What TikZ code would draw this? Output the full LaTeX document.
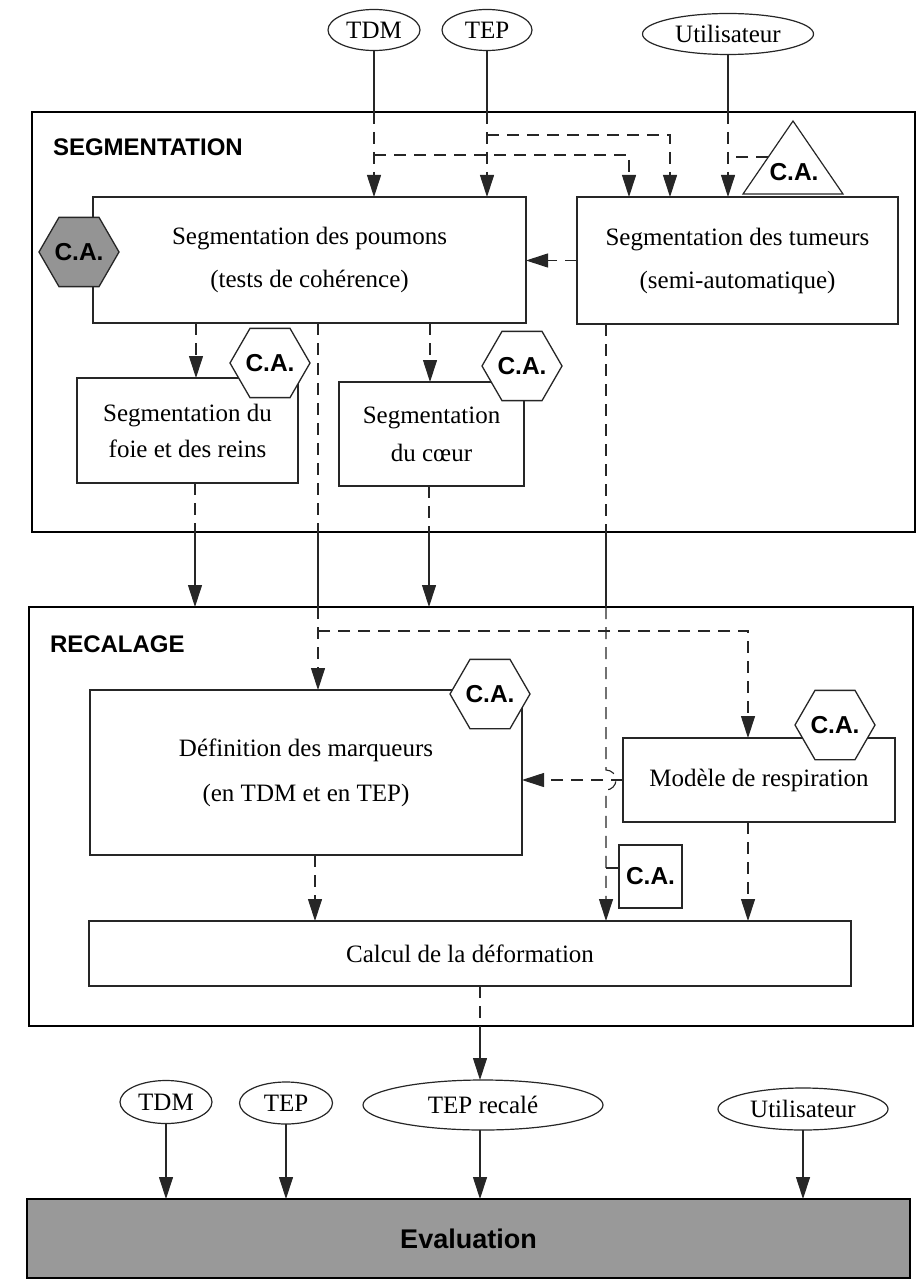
\documentclass[tikz,border=0pt]{standalone}
\usepackage{fontspec}
\setmainfont{Liberation Serif}
\newfontfamily\labfont{Liberation Sans}
\usetikzlibrary{shapes.geometric,arrows.meta,calc}
\begin{document}
\begin{tikzpicture}[x=1pt,y=-1pt,
  every node/.style={inner sep=0pt, outer sep=0pt},
  txt/.style={font=\fontsize{25}{43}\selectfont, align=center},
  box/.style={draw=black!85, line width=1.3pt, fill=white, rectangle, txt},
  frame/.style={draw=black, line width=2.3pt, rectangle},
  ell/.style={draw=black!85, line width=1.2pt, ellipse, fill=white, font=\fontsize{25}{30}\selectfont},
  cafont/.style={font=\labfont\bfseries\fontsize{24.5}{25}\selectfont},
  hexa/.style={draw=black!85, line width=1.3pt, regular polygon, regular polygon sides=6, minimum size=67pt, fill=white, cafont},
  lab/.style={font=\labfont\bfseries\fontsize{24}{25}\selectfont},
  conn/.style={draw=black!85, line width=1.1pt},
  dconn/.style={conn, dash pattern=on 12pt off 8pt},
  arr/.style={-{Triangle[length=22pt,width=14pt]}},
]
\useasboundingbox (0,0) rectangle (920,1281);

% frames
\node[frame, minimum width=883pt, minimum height=420pt] (seg) at (473.5,322) {};
\node[frame, minimum width=884pt, minimum height=419pt] (rec) at (471,816.5) {};
\node[lab, anchor=west] (seglab) at (53,147) {SEGMENTATION};
\node[lab, anchor=west] (reclab) at (50,644) {RECALAGE};

% top inputs
\node[ell, minimum width=92pt, minimum height=41pt] (tdm1) at (374,30) {TDM};
\node[ell, minimum width=90pt, minimum height=41pt] (tep1) at (487,30) {TEP};
\node[ell, minimum width=171pt, minimum height=41pt] (user1) at (728,34) {Utilisateur};

% segmentation boxes
\node[box, minimum width=433pt, minimum height=126pt] (lungs) at (309.5,260) {Segmentation des poumons\\(tests de cohérence)};
\node[box, minimum width=321pt, minimum height=127pt] (tum) at (737.5,260.5) {Segmentation des tumeurs\\(semi-automatique)};
\node[box, minimum width=221pt, minimum height=105pt, font=\fontsize{25}{36}\selectfont] (foie) at (187.5,430.5) {Segmentation du\\foie et des reins};
\node[box, minimum width=185pt, minimum height=104pt, font=\fontsize{25}{38}\selectfont] (heart) at (431.5,434) {Segmentation\\du c\oe ur};

\node[hexa, fill=black!42] (hexL) at (79,252) {C.A.};
\node[hexa] (hexF) at (270,363) {C.A.};
\node[hexa] (hexH) at (522,366) {C.A.};

\draw[conn, line width=1.2pt] (743,194) -- (843,194) -- (793,121) -- cycle;
\node[cafont] (tri) at (794,172) {C.A.};
\coordinate (trileft) at (768,157);

% recalage boxes
\node[box, minimum width=432pt, minimum height=165pt, font=\fontsize{25}{45}\selectfont] (def) at (306,772.5) {Définition des marqueurs\\(en TDM et en TEP)};
\node[box, minimum width=272pt, minimum height=84pt] (mod) at (759,780) {Modèle de respiration};
\node[box, minimum width=63pt, minimum height=63pt, cafont] (sca) at (650.5,876.5) {C.A.};
\node[box, minimum width=762pt, minimum height=65pt] (calc) at (470,953.5) {Calcul de la déformation};
\node[hexa] (hexD) at (490,694) {C.A.};
\node[hexa] (hexM) at (835,725) {C.A.};

% bottom inputs
\node[ell, minimum width=92pt, minimum height=43pt] (tdm2) at (166,1102) {TDM};
\node[ell, minimum width=93pt, minimum height=42pt] (tep2) at (286,1103) {TEP};
\node[ell, minimum width=240pt, minimum height=50pt] (tepr) at (483,1105) {TEP recalé};
\node[ell, minimum width=170pt, minimum height=42pt] (user2) at (803,1109) {Utilisateur};
\node[draw=black, line width=1.5pt, fill=black!40, minimum width=883pt, minimum height=79pt, font=\labfont\bfseries\fontsize{27}{28}\selectfont] (eval) at (468.5,1238.5) {Evaluation};

% columns and rows
\coordinate (cTA) at (629,0);
\coordinate (cTB) at (670,0);
\coordinate (c196) at (196,0);
\coordinate (c430) at (430,0);
\coordinate (c318) at (318,0);
\coordinate (c748) at (748,0);
\coordinate (c195) at (195,0);
\coordinate (c429) at (429,0);
\coordinate (c606) at (606,0);
\coordinate (c315) at (315,0);
\coordinate (c480) at (480,0);
\coordinate (rA) at (0,155);
\coordinate (rB) at (0,135);
\coordinate (rT) at (0,157);
\coordinate (rC) at (0,631);
\coordinate (rS) at (0,868);

% top connectors
\draw[conn] (tdm1.south) -- (tdm1 |- seg.north);
\draw[dconn,arr] (tdm1 |- seg.north) -- (tdm1 |- lungs.north);
\draw[dconn,arr] (tdm1 |- rA) -| (cTA |- tum.north);
\draw[conn] (tep1.south) -- (tep1 |- seg.north);
\draw[dconn,arr] (tep1 |- seg.north) -- (tep1 |- lungs.north);
\draw[dconn,arr] (tep1 |- rB) -| (cTB |- tum.north);
\draw[conn] (user1.south) -- (user1 |- seg.north);
\draw[dconn,arr] (user1 |- seg.north) -- (user1 |- tum.north);
\draw[dconn] (trileft) -- (user1 |- rT);
\draw[dconn,arr] (tum.west) -- (tum.west -| lungs.east);

% lungs to sub boxes
\draw[dconn,arr] (c196 |- lungs.south) -- (c196 |- foie.north);
\draw[dconn,arr] (c430 |- lungs.south) -- (c430 |- heart.north);

% to recalage
\draw[dconn] (c195 |- foie.south) -- (c195 |- seg.south);
\draw[conn,arr] (c195 |- seg.south) -- (c195 |- rec.north);
\draw[dconn] (c429 |- heart.south) -- (c429 |- seg.south);
\draw[conn,arr] (c429 |- seg.south) -- (c429 |- rec.north);
\draw[dconn] (c318 |- lungs.south) -- (c318 |- seg.south);
\draw[conn] (c318 |- seg.south) -- (c318 |- rec.north);
\draw[dconn,arr] (c318 |- rec.north) -- (c318 |- def.north);
\draw[dconn,arr] (c318 |- rC) -| (c748 |- mod.north);
\draw[dconn] (c606 |- tum.south) -- (c606 |- seg.south);
\draw[conn] (c606 |- seg.south) -- (c606 |- rec.north);
\draw[dconn,arr] (c606 |- rec.north) -- (606,770) arc[start angle=90, end angle=-90, radius=10pt] -- (c606 |- calc.north);
\draw[conn] (c606 |- rS) -- (sca.west |- rS);
\draw[dconn,arr] (mod.west) -- (mod.west -| def.east);

% to calcul
\draw[dconn,arr] (c315 |- def.south) -- (c315 |- calc.north);
\draw[dconn,arr] (c748 |- mod.south) -- (c748 |- calc.north);
\draw[dconn] (c480 |- calc.south) -- (c480 |- rec.south);
\draw[conn,arr] (c480 |- rec.south) -- (c480 |- tepr.north);

% evaluation
\draw[conn,arr] (tdm2.south) -- (tdm2 |- eval.north);
\draw[conn,arr] (tep2.south) -- (tep2 |- eval.north);
\draw[conn,arr] (c480 |- tepr.south) -- (c480 |- eval.north);
\draw[conn,arr] (user2.south) -- (user2 |- eval.north);
\end{tikzpicture}
\end{document}
